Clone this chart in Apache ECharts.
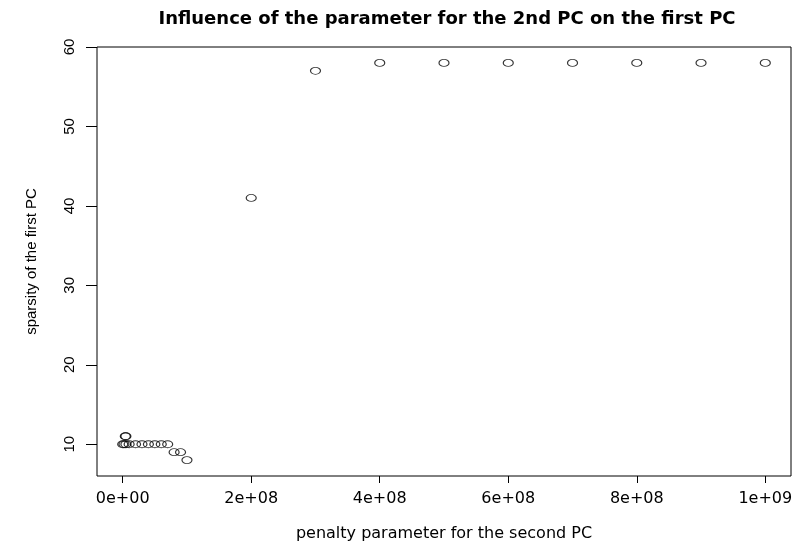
<!DOCTYPE html>
<html>
<head>
<meta charset="utf-8">
<script src="https://cdn.jsdelivr.net/npm/echarts@6/dist/echarts.min.js"></script>
<style>
  html, body { margin: 0; padding: 0; background: #fff; }
  #main { width: 800px; height: 551px; }
</style>
</head>
<body>
<div id="main"></div>
<script>
// penalty parameter for the 2nd PC (x) and sparsity of the first PC (y)
var penalty = [0, 2e6, 5e6, 1e7, 4e6, 5e6,
               2e7, 3e7, 4e7, 5e7, 6e7, 7e7, 8e7, 9e7, 1e8,
               2e8, 3e8, 4e8, 5e8, 6e8, 7e8, 8e8, 9e8, 1e9];
var sparsity = [10, 10, 10, 10, 11, 11,
                10, 10, 10, 10, 10, 10, 9, 9, 8,
                41, 57, 58, 58, 58, 58, 58, 58, 58];
var xTicks = [0, 2e8, 4e8, 6e8, 8e8, 1e9];
var yTicks = [10, 20, 30, 40, 50, 60];

var points = penalty.map(function (v, i) { return [v, sparsity[i]]; });

// R style scientific labels: 0e+00, 2e+08 ...
function sci(v) {
    if (v === 0) return '0e+00';
    var e = Math.floor(Math.log10(v));
    var m = Math.round(v / Math.pow(10, e));
    return m + 'e+' + (e < 10 ? '0' + e : e);
}

var wide = 'DejaVu Sans, Liberation Sans, Arial, sans-serif';
var narrow = 'Liberation Sans, Arial, Helvetica, sans-serif';
var chart = echarts.init(document.getElementById('main'));
chart.setOption({
    animation: false,
    backgroundColor: '#fff',
    title: {
        text: 'Influence of the parameter for the 2nd PC on the first PC',
        left: 442,
        top: 5,
        textAlign: 'center',
        textStyle: { fontFamily: wide, fontSize: 18, fontWeight: 'bold', color: '#000' }
    },
    grid: {
        left: 97, right: 9, top: 47, bottom: 75,
        show: true, borderColor: '#000', borderWidth: 1
    },
    xAxis: {
        type: 'value',
        min: -4e7, max: 1.04e9,
        name: 'penalty parameter for the second PC',
        nameLocation: 'middle',
        nameGap: 50,
        nameTextStyle: { fontFamily: wide, fontSize: 16, color: '#000' },
        axisLine: { show: false, onZero: false },
        splitLine: { show: false },
        axisTick: { show: true, length: 7, customValues: xTicks, lineStyle: { color: '#000' } },
        axisLabel: {
            customValues: xTicks, margin: 15,
            fontFamily: wide, fontSize: 16, color: '#000',
            formatter: sci
        }
    },
    yAxis: {
        type: 'value',
        min: 6, max: 60,
        name: 'sparsity of the first PC',
        nameLocation: 'middle',
        nameRotate: 90,
        nameGap: 58,
        nameTextStyle: { fontFamily: narrow, fontSize: 15, color: '#000' },
        axisLine: { show: false, onZero: false },
        splitLine: { show: false },
        axisTick: { show: true, length: 11, customValues: yTicks, lineStyle: { color: '#000' } },
        axisLabel: {
            customValues: yTicks, rotate: 90, margin: 20,
            fontFamily: narrow, fontSize: 15, color: '#000'
        }
    },
    series: [{
        type: 'scatter',
        data: points,
        symbol: 'circle',
        symbolSize: [10, 7],
        itemStyle: { color: 'rgba(0,0,0,0)', borderColor: '#000', borderWidth: 1 }
    }]
});
</script>
</body>
</html>
